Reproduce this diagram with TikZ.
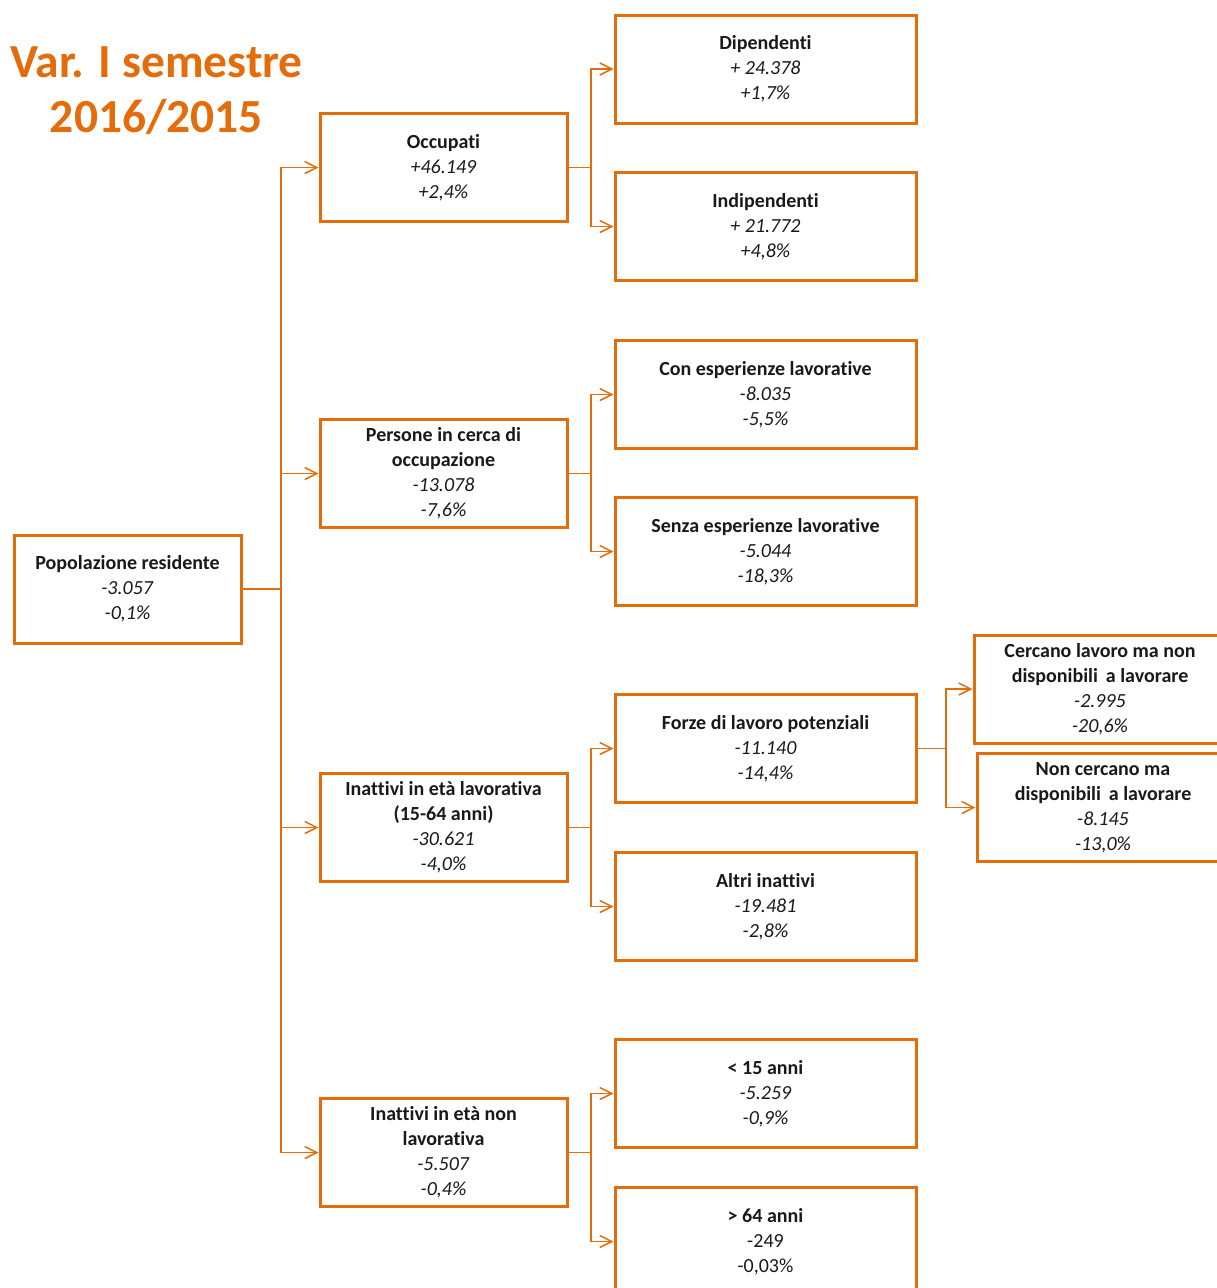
\documentclass[tikz,border=0pt]{standalone}
\usepackage{fontspec}
\setmainfont{Carlito}[Ligatures=NoCommon]
\usetikzlibrary{arrows.meta}
\definecolor{org}{RGB}{228,108,10}
\begin{document}
\begin{tikzpicture}[x=1pt,y=-1pt,
  box/.style={draw=org,line width=3pt,rectangle,minimum height=108pt,align=center,inner sep=0pt,text=black!90,font=\fontsize{20}{25}\selectfont},
  bmid/.style={box,minimum width=247pt},
  bright/.style={box,minimum width=301pt},
  bfar/.style={box,minimum width=252pt},
  bpop/.style={box,minimum width=227pt},
  conn/.style={draw=org,line width=1.5pt},
  arr/.style={conn,-{Straight Barb[length=12pt,width=12pt]}},
  ttl/.style={text=org,font=\fontsize{47.5}{57}\selectfont\bfseries,anchor=base,inner sep=0pt}]
\useasboundingbox (0,0) rectangle (1217,1288);
\clip (0,0) rectangle (1217,1288);
\node[ttl] (t1) at (156.5,77) {Var. I semestre};
\node[ttl] (t2) at (156.5,132) {2016/2015};

\node[bpop] (pop) at (127.5,589) {\textbf{Popolazione residente}\\\textit{-3.057}\\\textit{-0,1\%}};

\node[bmid] (occ) at (443.5,167.5) {\textbf{Occupati}\\\textit{+46.149}\\\textit{+2,4\%}};
\node[bmid] (per) at (443.5,473.5) {\textbf{Persone in cerca di}\\\textbf{occupazione}\\\textit{-13.078}\\\textit{-7,6\%}};
\node[bmid] (ina) at (443.5,827.5) {\textbf{Inattivi in età lavorativa}\\\textbf{(15-64 anni)}\\\textit{-30.621}\\\textit{-4,0\%}};
\node[bmid] (inn) at (443.5,1152.5) {\textbf{Inattivi in età non}\\\textbf{lavorativa}\\\textit{-5.507}\\\textit{-0,4\%}};

\node[bright] (dip) at (765.5,69) {\textbf{Dipendenti}\\\textit{+ 24.378}\\\textit{+1,7\%}};
\node[bright] (ind) at (765.5,226.5) {\textbf{Indipendenti}\\\textit{+ 21.772}\\\textit{+4,8\%}};
\node[bright] (con) at (765.5,394.5) {\textbf{Con esperienze lavorative}\\\textit{-8.035}\\\textit{-5,5\%}};
\node[bright] (sen) at (765.5,551.5) {\textbf{Senza esperienze lavorative}\\\textit{-5.044}\\\textit{-18,3\%}};
\node[bright] (for) at (765.5,748.5) {\textbf{Forze di lavoro potenziali}\\\textit{-11.140}\\\textit{-14,4\%}};
\node[bright] (alt) at (765.5,906.5) {\textbf{Altri inattivi}\\\textit{-19.481}\\\textit{-2,8\%}};
\node[bright] (u15) at (765.5,1093.5) {\textbf{< 15 anni}\\\textit{-5.259}\\\textit{-0,9\%}};
\node[bright] (o64) at (765.5,1241.5) {\textbf{> 64 anni}\\-249\\-0,03\%};

\node[bfar] (cer) at (1100,689) {\textbf{Cercano lavoro ma non}\\\textbf{disponibili\, a lavorare}\\\textit{-2.995}\\\textit{-20,6\%}};
\node[bfar] (nonc) at (1103,807.5) {\textbf{Non cercano ma}\\\textbf{disponibili\, a lavorare}\\\textit{-8.145}\\\textit{-13,0\%}};

\coordinate (j0) at (281,589);
\draw[conn] (pop.east) -- (j0);
\foreach \n in {occ,per,ina,inn} \draw[arr] (j0) |- (\n.west);

\coordinate (j1) at (591,167.5);
\draw[conn] (occ.east) -- (j1);
\draw[arr] (j1) |- (dip.west);
\draw[arr] (j1) |- (ind.west);

\coordinate (j2) at (591,473.5);
\draw[conn] (per.east) -- (j2);
\draw[arr] (j2) |- (con.west);
\draw[arr] (j2) |- (sen.west);

\coordinate (j3) at (591,827.5);
\draw[conn] (ina.east) -- (j3);
\draw[arr] (j3) |- (for.west);
\draw[arr] (j3) |- (alt.west);

\coordinate (j4) at (591,1152.5);
\draw[conn] (inn.east) -- (j4);
\draw[arr] (j4) |- (u15.west);
\draw[arr] (j4) |- (o64.west);

\coordinate (j5) at (946,748.5);
\draw[conn] (for.east) -- (j5);
\draw[arr] (j5) |- (cer.west);
\draw[arr] (j5) |- (nonc.west);
\end{tikzpicture}
\end{document}
